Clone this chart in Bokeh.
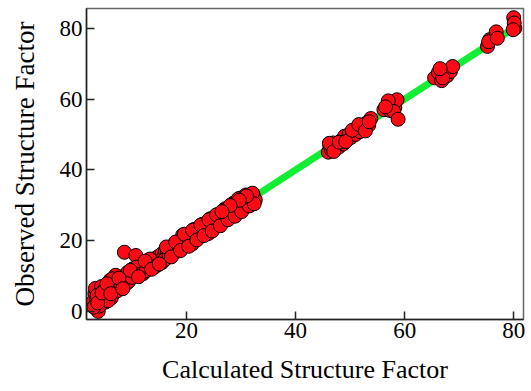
from bokeh.plotting import figure
from bokeh.models import Range1d, FixedTicker
from bokeh.embed import file_html
from bokeh.resources import INLINE

# Data
calc = [2.9, 3.2, 3.5, 3.8, 3.9, 4.1, 4.3, 4.6, 4.8, 5.0, 5.3, 5.5, 5.8, 6.0, 6.3, 6.6, 6.9, 7.2, 7.5, 7.8,
        8.1, 8.4, 8.6, 8.9, 9.2, 9.5, 9.8, 10.1, 10.4, 10.7, 11.0, 11.3, 11.6, 11.9, 12.2, 12.5, 12.8, 13.1, 13.4, 13.7,
        14.0, 14.3, 14.6, 14.9, 15.2, 15.5, 15.8, 16.1, 16.4, 16.7, 17.0, 17.3, 17.6, 17.9, 18.2, 18.5, 18.8, 19.1, 19.4, 19.7,
        20.0, 20.3, 20.6, 20.9, 21.2, 21.5, 21.8, 22.1, 22.4, 22.7, 23.0, 23.3, 23.6, 23.9, 24.2, 24.5, 24.8, 25.1, 25.4, 25.7,
        26.0, 26.3, 26.6, 26.9, 27.2, 27.5, 27.8, 28.1, 28.4, 28.7, 29.0, 29.3, 29.6, 29.9, 30.2, 30.5, 30.8, 31.1, 31.4, 31.7, 32.0,
        3.3, 4.4, 5.1, 6.2, 7.0, 9.0, 12.0, 14.2, 15.5, 21.0, 24.0, 27.0, 30.0,
        3.6, 4.0, 4.9, 5.6, 6.4, 7.3, 8.0, 9.4, 10.0, 10.8, 11.5, 12.6, 13.3, 13.9, 14.8, 16.0, 16.8, 17.5, 18.4, 19.3,
        19.9, 20.6, 21.4, 22.0, 22.9, 23.4, 24.4, 25.0, 25.8, 26.4, 27.1, 27.9, 28.6, 29.2, 29.8, 30.6, 31.2, 31.8, 32.3, 32.6,
        3.0, 3.7, 4.5, 5.4, 6.1, 7.6, 8.3, 9.7, 11.2, 12.4, 13.6, 15.0, 16.3, 17.2, 18.0, 18.9, 19.6, 20.4, 21.1, 21.9,
        22.6, 23.2, 24.1, 24.7, 25.5, 26.2, 26.8, 27.6, 28.3, 28.9, 29.5, 30.1, 30.9, 31.5, 32.1, 32.4, 31.0, 29.7, 28.0, 26.5,
        46.0, 46.3, 46.6, 46.9, 47.2, 47.5, 47.9, 48.3, 48.7, 49.0, 49.4, 49.8, 50.2, 50.6, 51.0, 51.4, 51.8, 52.2, 52.6, 53.0,
        53.4, 53.8, 46.2, 47.0, 48.0, 49.2, 50.4, 51.6, 52.8, 53.5,
        56.2, 56.8, 57.3, 57.8, 58.2, 58.6, 57.0, 58.0, 58.8, 56.5,
        65.5, 66.2, 66.8, 67.2, 67.8, 68.4, 68.8, 67.0, 66.5,
        75.2, 75.6, 76.8, 75.4, 77.0,
        80.0, 80.2, 80.1, 79.9]
obs = [2.8, 5.0, 3.2, 0.0, 6.2, 4.0, 2.0, 5.5, 3.8, 6.8, 4.5, 7.5, 5.6, 8.8, 6.5, 7.2, 9.0, 7.8, 6.9, 8.5,
       9.8, 8.0, 16.7, 9.5, 11.0, 9.2, 10.4, 12.0, 10.8, 15.8, 11.6, 12.4, 11.2, 13.0, 12.0, 13.4, 12.6, 14.0, 13.0, 14.5,
       13.8, 15.0, 14.2, 15.6, 14.8, 16.3, 15.4, 16.9, 16.0, 17.6, 16.6, 18.0, 17.2, 18.8, 17.8, 19.5, 18.3, 20.2, 19.0, 21.0,
       19.6, 21.4, 20.2, 22.0, 20.8, 22.6, 21.3, 23.2, 21.9, 23.8, 22.5, 24.3, 23.1, 25.0, 23.8, 25.5, 24.3, 26.0, 25.0, 26.7,
       25.5, 27.4, 26.1, 28.0, 26.8, 28.5, 27.3, 29.2, 28.0, 29.8, 28.6, 30.4, 29.3, 31.0, 30.0, 31.5, 30.6, 32.0, 31.2, 32.4, 31.8,
       6.5, 7.0, 2.6, 3.8, 10.2, 7.9, 10.6, 12.6, 13.8, 19.0, 22.0, 26.0, 29.0,
       4.5, 1.5, 6.0, 3.0, 9.2, 5.8, 7.2, 8.5, 9.6, 12.5, 10.4, 11.5, 14.8, 12.5, 13.2, 14.6, 15.8, 18.6, 17.0, 21.6,
       18.6, 19.4, 23.2, 20.6, 24.6, 22.0, 26.2, 23.6, 27.4, 24.9, 29.0, 26.5, 30.6, 27.8, 32.0, 29.4, 32.8, 30.9, 32.6, 31.5,
       1.2, 2.4, 5.2, 7.8, 5.0, 9.4, 6.4, 11.6, 9.8, 14.2, 11.9, 13.4, 18.2, 15.4, 19.6, 17.2, 21.8, 18.4, 22.9, 20.2,
       24.4, 21.4, 25.9, 22.7, 27.3, 24.2, 28.6, 25.9, 30.2, 26.9, 31.8, 28.2, 32.9, 29.8, 33.4, 30.4, 32.6, 31.4, 29.9, 28.2,
       45.0, 46.8, 45.6, 47.6, 46.2, 47.0, 46.4, 48.2, 47.3, 49.5, 48.4, 50.0, 49.2, 50.8, 50.0, 51.6, 50.8, 52.4, 51.5, 53.2,
       52.6, 54.5, 47.5, 45.2, 47.8, 48.0, 51.2, 52.8, 51.0, 53.6,
       57.0, 58.2, 56.8, 58.8, 57.6, 59.8, 59.5, 56.5, 54.3, 57.8,
       66.0, 67.5, 65.2, 68.0, 66.6, 67.8, 69.2, 66.0, 68.6,
       74.9, 76.8, 79.0, 76.2, 77.2,
       83.0, 80.0, 81.5, 79.6]
fit_x = [3.0, 81.0]
fit_y = [3.0, 81.0]
x_ticks = [20, 40, 60, 80]
y_ticks = [0, 20, 40, 60, 80]

p = figure(width=529, height=387, output_backend="svg", toolbar_location=None,
           x_range=Range1d(1.65, 81.8), y_range=Range1d(-2.3, 85.6),
           min_border_left=86, min_border_right=6, min_border_top=8, min_border_bottom=68)

p.line(fit_x, fit_y, line_color="#11ee33", line_width=7)
p.scatter(calc, obs, size=14, fill_color="#ff0a14", line_color="black", line_width=1)

p.xgrid.visible = False
p.ygrid.visible = False
p.outline_line_color = "#666666"
p.outline_line_width = 1.5

font = "Liberation Serif"
for ax, ticks, lab, fs in ((p.xaxis[0], x_ticks, "Calculated Structure Factor", "26px"),
                           (p.yaxis[0], y_ticks, "Observed Structure Factor", "27px")):
    ax.ticker = FixedTicker(ticks=ticks)
    ax.axis_label = lab
    ax.axis_label_text_font = font
    ax.axis_label_text_font_size = fs
    ax.axis_label_text_font_style = "normal"
    ax.axis_label_text_color = "black"
    ax.major_label_text_font = font
    ax.major_label_text_font_size = "23px"
    ax.major_label_text_color = "black"
    ax.axis_line_color = "#222222"
    ax.axis_line_width = 1.5
    ax.major_tick_in = 8
    ax.major_tick_out = 0
    ax.major_tick_line_color = "#222222"
    ax.major_tick_line_width = 1.5
    ax.minor_tick_line_color = None

p.xaxis.major_label_standoff = 3
p.xaxis.axis_label_standoff = 14
p.yaxis.major_label_standoff = 4
p.yaxis.axis_label_standoff = 17

open("out.html", "w").write(file_html(p, INLINE))
